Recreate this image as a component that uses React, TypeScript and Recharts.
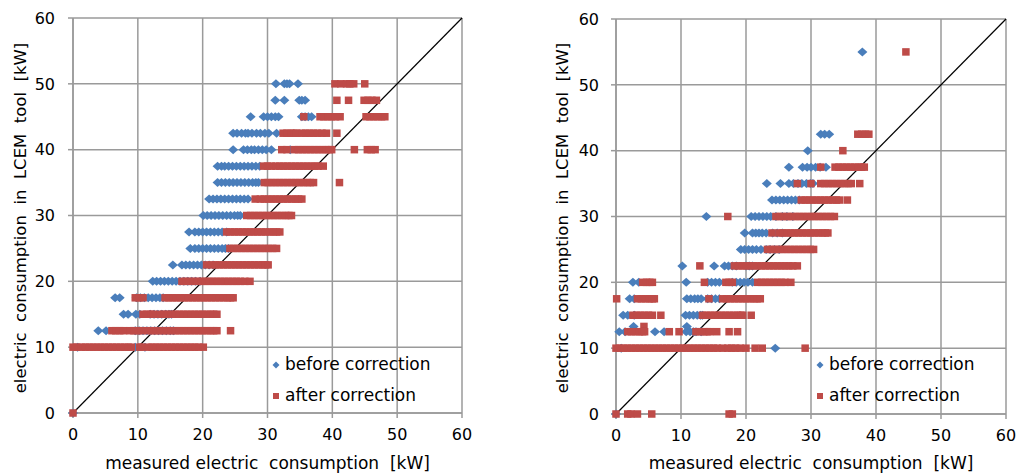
import { ScatterChart, Scatter, XAxis, YAxis, CartesianGrid, ReferenceLine, Legend } from 'recharts';

// axis ticks shared by both panels (kW)
const ticks = [0, 10, 20, 30, 40, 50, 60];
const diagonal = [{ x: 0, y: 0 }, { x: 60, y: 60 }];

// each row: [LCEM value, measured values...]
// left panel, before correction
const leftBefore: number[][] = [
  [50, 31.3, 32.6, 33.0, 33.4, 34.7],
  [47.5, 31.2, 32.6, 34.9, 35.3, 35.8],
  [45, 27.4, 29.4, 30.0, 30.6, 31.2, 31.7, 35.3, 35.8, 36.3, 36.8],
  [42.5, 24.7, 25.3, 26.0, 26.6, 27.0, 27.6, 28.3, 28.9, 29.6, 30.2, 31.4],
  [40, 24.7, 26.3, 26.9, 27.5, 28.0, 28.6, 29.2, 29.8, 30.6, 33.5],
  [37.5, 22.3, 22.9, 23.4, 24.0, 24.6, 25.2, 25.8, 26.4, 27.0, 27.6, 28.2, 28.8],
  [35, 22.3, 22.9, 23.5, 24.1, 24.7, 25.3, 25.9, 26.5, 27.1, 27.7, 28.2, 28.6],
  [32.5, 21.0, 21.6, 22.2, 22.8, 23.4, 24.0, 24.6, 25.2, 25.8, 26.4, 27.0],
  [30, 20.1, 20.7, 21.3, 21.9, 22.5, 23.1, 23.7, 24.3, 24.9, 25.4, 25.8],
  [27.5, 17.9, 18.8, 19.4, 20.0, 20.6, 21.2, 21.8, 22.4, 23.0, 23.7],
  [25, 18.1, 18.8, 19.4, 20.0, 20.6, 21.2, 21.8, 22.4, 23.0, 23.5, 24.0],
  [22.5, 15.4, 16.8, 17.4, 18.0, 18.6, 19.2, 19.8, 20.4, 21.0, 21.6],
  [20, 12.3, 12.9, 13.5, 14.1, 14.7, 15.3, 15.9, 16.5, 17.1, 17.7, 18.3, 18.9, 19.6],
  [17.5, 6.5, 7.2, 9.8, 10.4, 11.0, 11.6, 12.2, 12.8, 13.4, 13.9],
  [15, 7.8, 8.5, 9.7, 10.3, 11.9, 12.5, 13.1, 13.7, 14.3, 14.8, 15.2],
  [12.5, 3.9, 5.1, 9.6, 10.2, 10.8, 11.4, 12.0, 12.6, 13.2, 13.8, 14.4, 15.0, 15.5],
  [10, 0.7, 9.6, 11.1],
  [0, 0],
];

// left panel, after correction
const leftAfter: number[][] = [
  [50, 40.4, 41.3, 42.2, 42.7, 43.3, 45.0],
  [47.5, 40.7, 42.5, 44.9, 45.5, 46.1, 46.8],
  [45, 35.6, 38.1, 38.7, 39.3, 39.9, 40.5, 41.2, 45.2, 45.8, 46.4, 47.0, 47.6, 48.1],
  [42.5, 32.4, 33.0, 33.6, 34.1, 34.5, 35.3, 35.9, 36.5, 37.1, 37.7, 38.4, 39.1, 40.7],
  [40, 32.2, 33.0, 34.2, 34.8, 35.4, 36.0, 36.6, 37.2, 37.8, 38.4, 39.0, 39.5, 39.9, 43.4, 45.4, 46.0, 46.6],
  [37.5, 29.4, 30.0, 30.6, 31.3, 31.9, 32.5, 33.1, 33.7, 34.3, 34.9, 35.5, 36.1, 36.7, 37.3, 37.8, 38.6],
  [35, 29.5, 30.1, 30.7, 31.3, 31.9, 32.5, 33.1, 33.7, 34.3, 34.9, 35.5, 36.1, 36.6, 37.1, 41.1],
  [32.5, 28.1, 28.9, 29.5, 30.1, 30.7, 31.3, 31.9, 32.5, 33.1, 33.7, 34.3, 34.8, 35.3],
  [30, 26.8, 27.4, 28.0, 28.6, 29.2, 29.8, 30.4, 31.0, 31.6, 32.2, 32.8, 33.3, 33.7],
  [27.5, 23.7, 24.3, 24.9, 25.5, 26.1, 26.7, 27.3, 27.9, 28.5, 29.1, 29.7, 30.3, 30.9, 31.4, 31.9],
  [25, 24.2, 24.8, 25.4, 26.0, 26.6, 27.2, 27.8, 28.4, 29.0, 29.6, 30.2, 30.8, 31.4],
  [22.5, 20.6, 21.4, 22.0, 22.6, 23.2, 23.8, 24.4, 25.0, 25.6, 26.2, 26.8, 27.4, 28.0, 28.6, 29.2, 29.7, 30.1],
  [20, 16.8, 17.4, 18.0, 18.6, 19.2, 19.8, 20.4, 21.0, 21.6, 22.2, 22.8, 23.4, 24.0, 24.6, 25.2, 25.8, 26.5, 27.3],
  [17.5, 9.6, 10.2, 10.8, 14.2, 14.8, 15.4, 16.0, 16.6, 17.2, 17.8, 18.4, 19.0, 19.6, 20.2, 20.8, 21.4, 22.0, 22.6, 23.2, 23.8, 24.3, 24.7],
  [15, 10.8, 11.4, 12.0, 12.4, 13.4, 14.0, 14.6, 15.2, 15.8, 16.4, 17.0, 17.6, 18.2, 18.8, 19.4, 20.0, 20.6, 21.2, 21.7, 22.2],
  [12.5, 6.0, 6.6, 7.2, 7.8, 8.8, 9.4, 10.0, 10.6, 11.6, 12.2, 12.8, 13.4, 14.0, 14.6, 15.2, 15.8, 16.4, 17.0, 17.6, 18.2, 18.8, 19.4, 20.0, 20.6, 21.2, 21.7, 22.2, 24.3],
  [10, 0.0, 0.6, 1.3, 1.9, 2.5, 3.1, 3.7, 4.3, 4.9, 5.5, 6.1, 6.7, 7.3, 7.9, 8.5, 9.0, 10.3, 10.6, 11.6, 12.2, 12.8, 13.4, 14.0, 14.6, 15.2, 15.8, 16.4, 17.0, 17.6, 18.2, 18.8, 19.4, 20.1],
  [0, 0],
];

// right panel, before correction
const rightBefore: number[][] = [
  [55, 37.9],
  [42.5, 31.5, 32.1, 32.8],
  [40, 29.5],
  [37.5, 26.6, 28.7, 29.4, 30.0, 30.7, 31.4, 32.3],
  [35, 23.2, 25.3, 26.6, 27.3, 28.0, 28.6, 29.3, 29.9, 30.3],
  [32.5, 24.0, 24.6, 25.2, 25.8, 26.4, 27.0, 27.6, 28.2],
  [30, 13.9, 20.8, 21.4, 22.0, 22.6, 23.2, 23.8, 24.6, 25.6, 26.3, 27.2],
  [27.5, 19.8, 21.0, 21.5, 22.0, 22.5, 23.1, 24.1, 24.8, 25.6],
  [25, 19.2, 19.8, 20.4, 21.0, 21.6, 22.3, 23.1, 23.7, 24.4, 25.1],
  [22.5, 10.2, 15.1, 16.7, 17.3, 17.9, 18.5, 20.0, 20.5, 21.0],
  [20, 2.6, 3.5, 10.8, 14.1, 14.7, 15.3, 15.9, 17.9, 18.5, 19.1, 19.7, 20.3, 21.0],
  [17.5, 2.1, 2.8, 10.9, 11.5, 12.1, 12.6, 13.1, 14.1, 14.7, 15.3, 15.9],
  [15, 1.1, 1.8, 2.8, 10.7, 11.3, 11.9, 12.5, 13.0, 13.3],
  [13.3, 2.7, 10.9],
  [12.5, 0.5, 1.4, 6.0, 7.4, 10.8, 11.4, 11.9, 12.3, 13.1],
  [10, 0.8, 24.5],
  [0, 0],
];

// right panel, after correction
const rightAfter: number[][] = [
  [55, 44.6],
  [42.5, 37.2, 37.8, 38.4, 38.9],
  [40, 34.9],
  [37.5, 31.5, 33.7, 34.3, 34.9, 35.5, 36.1, 36.7, 37.3, 37.8, 38.2],
  [35, 27.9, 30.0, 31.5, 32.1, 32.7, 33.3, 33.9, 34.5, 35.1, 35.7, 36.2, 37.5],
  [32.5, 28.5, 29.1, 29.7, 30.3, 30.9, 31.5, 32.1, 32.7, 33.3, 33.9, 34.4, 35.6],
  [30, 17.2, 24.6, 25.2, 25.8, 26.4, 27.0, 27.6, 28.2, 28.8, 29.4, 30.0, 30.6, 31.2, 31.8, 32.4, 33.0, 33.6],
  [27.5, 24.0, 25.1, 25.7, 26.3, 26.9, 27.5, 28.1, 28.7, 29.3, 29.9, 30.5, 31.1, 31.7, 32.2, 32.6],
  [25, 23.3, 23.9, 24.5, 25.1, 25.7, 26.3, 26.9, 27.5, 28.1, 28.7, 29.3, 29.9, 30.4],
  [22.5, 12.9, 18.2, 18.8, 19.4, 20.0, 20.6, 21.2, 21.8, 22.4, 23.0, 23.6, 24.2, 24.8, 25.4, 26.0, 26.6, 27.2, 27.9],
  [20, 4.1, 4.7, 5.2, 5.6, 13.6, 16.9, 17.4, 17.9, 21.8, 22.4, 23.0, 23.6, 24.2, 24.8, 25.4, 26.0, 26.9],
  [17.5, 0.1, 3.3, 3.9, 4.5, 5.1, 5.6, 5.9, 14.3, 16.4, 17.0, 17.6, 18.2, 18.8, 19.4, 20.0, 20.6, 21.2, 21.7, 22.2],
  [15, 2.6, 3.2, 3.8, 4.4, 5.0, 5.6, 6.9, 13.3, 13.9, 14.5, 15.1, 15.7, 16.3, 16.9, 17.5, 18.1, 18.7, 19.2, 19.5, 20.8],
  [13.3, 4.3],
  [12.5, 1.8, 2.4, 3.0, 3.6, 4.1, 4.4, 8.2, 9.7, 12.3, 12.9, 13.5, 14.0, 14.4, 15.5, 17.4, 18.7],
  [10, 0.0, 0.6, 1.2, 1.8, 2.4, 3.0, 3.6, 4.2, 4.8, 5.4, 6.0, 6.6, 7.2, 7.8, 8.4, 9.0, 9.6, 10.2, 10.8, 11.4, 12.0, 12.6, 13.2, 13.8, 14.4, 15.0, 15.6, 16.4, 17.2, 17.8, 18.4, 19.1, 20.0, 21.4, 22.5, 29.1],
  [0, 0, 1.8, 2.3, 3.3, 5.5, 17.4, 17.9],
];

const BLUE = '#4A7EBB';
const RED = '#BE4B48';
const GRID = '#9a9a9a';
const FONT = 'DejaVu Sans, Verdana, sans-serif';

const toPoints = (rows: number[][]) =>
  rows.flatMap(([y, ...xs]) => xs.map((x) => ({ x, y })));

const Diamond = (p: any) => (
  <polygon
    points={`${p.cx},${p.cy - 4.5} ${p.cx + 5},${p.cy} ${p.cx},${p.cy + 4.5} ${p.cx - 5},${p.cy}`}
    fill={BLUE}
  />
);
const Square = (p: any) => <rect x={p.cx - 3.75} y={p.cy - 3.75} width={7.5} height={7.5} fill={RED} />;

const LegendBox = () => (
  <div style={{ fontFamily: FONT, fontSize: 17, color: '#000', lineHeight: '31px' }}>
    <div style={{ height: 31, display: 'flex', alignItems: 'center' }}>
      <svg width={10} height={10} style={{ marginRight: 4 }}>
        <polygon points="5,1.5 8.5,5 5,8.5 1.5,5" fill={BLUE} />
      </svg>
      before correction
    </div>
    <div style={{ height: 31, display: 'flex', alignItems: 'center' }}>
      <svg width={10} height={10} style={{ marginRight: 4 }}>
        <rect x={2} y={2} width={6} height={6} fill={RED} />
      </svg>
      after correction
    </div>
  </div>
);

type PanelProps = {
  before: number[][];
  after: number[][];
  left: number;
  width: number;
  top: number;
  right: number;
  yAxisWidth: number;
  yTickMargin: number;
  yLabelX: number;
  legendLeft: number;
};

function Panel(p: PanelProps) {
  const xAxisHeight = 476 - p.top - 395;
  return (
    <div style={{ position: 'absolute', left: p.left, top: 0 }}>
      <ScatterChart width={p.width} height={476} margin={{ top: p.top, right: p.right, bottom: 0, left: 0 }}>
        <CartesianGrid stroke={GRID} strokeWidth={1.5} />
        <XAxis
          type="number"
          dataKey="x"
          domain={[0, 60]}
          ticks={ticks}
          height={xAxisHeight}
          tickSize={5}
          tickMargin={11}
          stroke={GRID}
          strokeWidth={1.5}
          tick={{ fill: '#000', fontSize: 16, fontFamily: FONT }}
          label={{
            content: (lp: any) => {
              const vb = lp.viewBox || {};
              const cx = (vb.x ?? 0) + (vb.width ?? 0) / 2;
              return (
                <text
                  x={cx}
                  y={469}
                  textAnchor="middle"
                  fontSize={17}
                  fontFamily={FONT}
                  fill="#000"
                  style={{ whiteSpace: 'pre' }}
                >
                  {'measured electric  consumption  [kW]'}
                </text>
              );
            },
          }}
        />
        <YAxis
          type="number"
          dataKey="y"
          domain={[0, 60]}
          ticks={ticks}
          width={p.yAxisWidth}
          tickSize={5}
          tickMargin={p.yTickMargin}
          stroke={GRID}
          strokeWidth={1.5}
          tick={{ fill: '#000', fontSize: 16, fontFamily: FONT }}
          label={{
            content: () => (
              <text
                x={p.yLabelX}
                y={218}
                transform={`rotate(-90, ${p.yLabelX}, 218)`}
                textAnchor="middle"
                dominantBaseline="central"
                fontSize={16.5}
                fontFamily={FONT}
                fill="#000"
                style={{ whiteSpace: 'pre' }}
              >
                {'electric  consumption  in  LCEM  tool  [kW]'}
              </text>
            ),
          }}
        />
        <Scatter name="before correction" data={toPoints(p.before)} shape={Diamond} isAnimationActive={false} />
        <Scatter name="after correction" data={toPoints(p.after)} shape={Square} isAnimationActive={false} />
        <ReferenceLine segment={diagonal} stroke="#000" strokeWidth={1.2} ifOverflow="visible" />
        <Legend
          layout="horizontal"
          verticalAlign="middle"
          align="center"
          content={<LegendBox />}
          wrapperStyle={{ position: 'absolute', left: p.legendLeft, top: 349, width: 220, bottom: 'auto' }}
        />
      </ScatterChart>
    </div>
  );
}

export default function App() {
  return (
    <div style={{ position: 'fixed', left: 0, top: 0, width: 1019, height: 476, background: '#fff' }}>
      <Panel
        before={leftBefore}
        after={leftAfter}
        left={0}
        width={510}
        top={18}
        right={48}
        yAxisWidth={73}
        yTickMargin={13}
        yLabelX={20}
        legendLeft={271}
      />
      <Panel
        before={rightBefore}
        after={rightAfter}
        left={519}
        width={500}
        top={19}
        right={13}
        yAxisWidth={97}
        yTickMargin={12}
        yLabelX={43}
        legendLeft={296}
      />
    </div>
  );
}
